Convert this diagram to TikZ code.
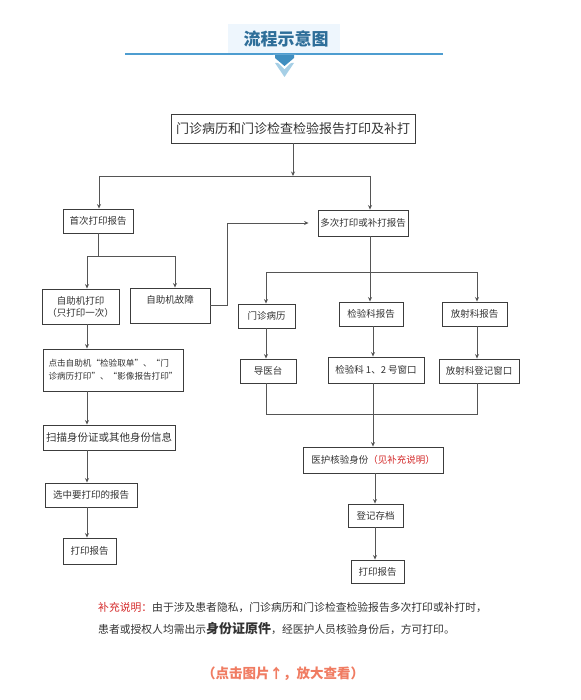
\documentclass[tikz,border=0pt]{standalone}
\usepackage{fontspec}
\setmainfont{Noto Sans CJK SC}
\usetikzlibrary{arrows.meta}
\definecolor{titlebg}{HTML}{EEF6FD}
\definecolor{titlec}{HTML}{2E6E99}
\definecolor{titleline}{HTML}{4E9DD0}
\definecolor{arrdark}{HTML}{3F8EC0}
\definecolor{arrlight}{HTML}{A6CFE6}
\definecolor{notered}{HTML}{D42A2A}
\definecolor{clickc}{HTML}{F07C62}
\definecolor{conn}{HTML}{555555}
\definecolor{boxline}{HTML}{3C3C3C}
\definecolor{txt}{HTML}{333333}
\begin{document}
\begin{tikzpicture}[x=1pt,y=-1pt,
  box/.style={draw=boxline, line width=0.9pt, fill=white, inner sep=0pt, text=txt,
    font=\fontsize{9.5}{12}\selectfont, align=center},
  arr/.style={draw=conn, line width=0.8pt, -{Stealth[length=4.5pt,width=4pt]}},
  ln/.style={draw=conn, line width=0.8pt}]
\useasboundingbox (0,0) rectangle (580,700);

% title
\fill[titlebg] (228,24) rectangle (340,53);
\node[font=\bfseries\fontsize{17}{20}\selectfont, text=titlec] (title) at (286,39) {流程示意图};
\draw[titleline, line width=2pt] (125,54) -- (443,54);
\fill[arrlight] (275,63) -- (294,63) -- (284.5,77) -- cycle;
\fill[white] (273,55) -- (296,55) -- (296,58) -- (284.5,69) -- (273,58) -- cycle;
\fill[arrdark] (275,55) -- (294,55) -- (294,58) -- (284.5,66) -- (275,58) -- cycle;

% boxes
\node[box, minimum width=244pt, minimum height=29pt, font=\fontsize{13}{16}\selectfont] (main) at (293,128.5) {门诊病历和门诊检查检验报告打印及补打};
\node[box, minimum width=70pt, minimum height=24pt] (first) at (98,221) {首次打印报告};
\node[box, minimum width=90pt, minimum height=26pt] (multi) at (363,223) {多次打印或补打报告};
\node[box, minimum width=77pt, minimum height=35pt] (zprint) at (80.5,306.5) {自助机打印\\（只打印一次）};
\node[box, minimum width=80pt, minimum height=35pt] (zfault) at (170,305.5) {自助机故障\\\mbox{}};
\node[box, minimum width=140pt, minimum height=42pt, align=left, font=\fontsize{8.6}{13}\selectfont] (click) at (113,370) {点击自助机“检验取单”、“门\\诊病历打印”、“影像报告打印”};
\node[box, minimum width=132pt, minimum height=25pt, font=\fontsize{10.5}{12}\selectfont] (scan) at (109,437.5) {扫描身份证或其他身份信息};
\node[box, minimum width=92pt, minimum height=24pt] (select) at (91,495) {选中要打印的报告};
\node[box, minimum width=53pt, minimum height=26pt] (printL) at (89.5,551) {打印报告};
\node[box, minimum width=57pt, minimum height=24pt] (mz) at (266.5,316) {门诊病历};
\node[box, minimum width=64pt, minimum height=24pt] (jy) at (371,314) {检验科报告};
\node[box, minimum width=65pt, minimum height=24pt] (fs) at (474.5,314) {放射科报告};
\node[box, minimum width=56pt, minimum height=24pt] (dyt) at (268,371) {导医台};
\node[box, minimum width=96pt, minimum height=26pt] (jyw) at (376,370) {检验科 1、2 号窗口};
\node[box, minimum width=80pt, minimum height=24pt] (fsw) at (479,371) {放射科登记窗口};
\node[box, minimum width=140pt, minimum height=26pt] (verify) at (373,460) {医护核验身份\textcolor{notered}{（见补充说明）}};
\node[box, minimum width=55pt, minimum height=23pt] (reg) at (375.5,515.5) {登记存档};
\node[box, minimum width=53pt, minimum height=23pt] (printR) at (377.5,571.5) {打印报告};

% top split
\coordinate (bl) at (99,176);
\coordinate (br) at (370,176);
\draw[arr] (main.south) -- (main.south |- bl);
\draw[ln] (bl) -- (br);
\draw[arr] (bl) -- (bl |- first.north);
\draw[arr] (br) -- (br |- multi.north);

% left branch
\coordinate (sl) at (87,256);
\coordinate (sr) at (175,256);
\draw[ln] (first.south) -- (first.south |- sl);
\draw[ln] (sl) -- (sr);
\draw[arr] (sl) -- (sl |- zprint.north);
\draw[arr] (sr) -- (sr |- zfault.north);
\draw[arr, shorten >=9pt] (zfault.east) -- ++(17,0) |- (multi.west);
\draw[arr] (zprint.south -| sl) -- (click.north -| sl);
\draw[arr] (click.south -| sl) -- (scan.north -| sl);
\draw[arr] (scan.south -| sl) -- (select.north -| sl);
\draw[arr] (select.south -| sl) -- (printL.north -| sl);

% right branch
\coordinate (rl) at (266,272);
\coordinate (rm) at (370,272);
\coordinate (rr) at (477,272);
\draw[ln] (multi.south -| rm) -- (rm);
\draw[ln] (rl) -- (rr);
\draw[arr] (rl) -- (rl |- mz.north);
\draw[arr] (rm) -- (rm |- jy.north);
\draw[arr] (rr) -- (rr |- fs.north);
\coordinate (cl) at (266,414);
\coordinate (cm) at (373,414);
\coordinate (cr) at (477,414);
\coordinate (vx) at (375,0);
\draw[arr] (mz.south -| cl) -- (dyt.north -| cl);
\draw[arr] (jy.south -| cm) -- (jyw.north -| cm);
\draw[arr] (fs.south -| cr) -- (fsw.north -| cr);
\draw[ln] (dyt.south -| cl) -- (cl) -- (cr) -- (fsw.south -| cr);
\draw[ln] (jyw.south -| cm) -- (cm);
\draw[arr] (cm) -- (verify.north -| cm);
\draw[arr] (verify.south -| vx) -- (reg.north -| vx);
\draw[arr] (reg.south -| vx) -- (printR.north -| vx);

% note
\node[anchor=west, inner sep=0pt, font=\fontsize{10.8}{13}\selectfont, text=txt] (note1) at (98,607) {\textcolor{notered}{补充说明：}由于涉及患者隐私，门诊病历和门诊检查检验报告多次打印或补打时，};
\node[anchor=west, inner sep=0pt, font=\fontsize{10.8}{13}\selectfont, text=txt] (note2) at (98,629) {患者或授权人均需出示{\bfseries\fontsize{13}{13}\selectfont 身份证原件}，经医护人员核验身份后，方可打印。};
\node[font=\bfseries\fontsize{13.5}{16}\selectfont, text=clickc] (hint) at (283,674) {（点击图片↑，放大查看）};
\end{tikzpicture}
\end{document}
